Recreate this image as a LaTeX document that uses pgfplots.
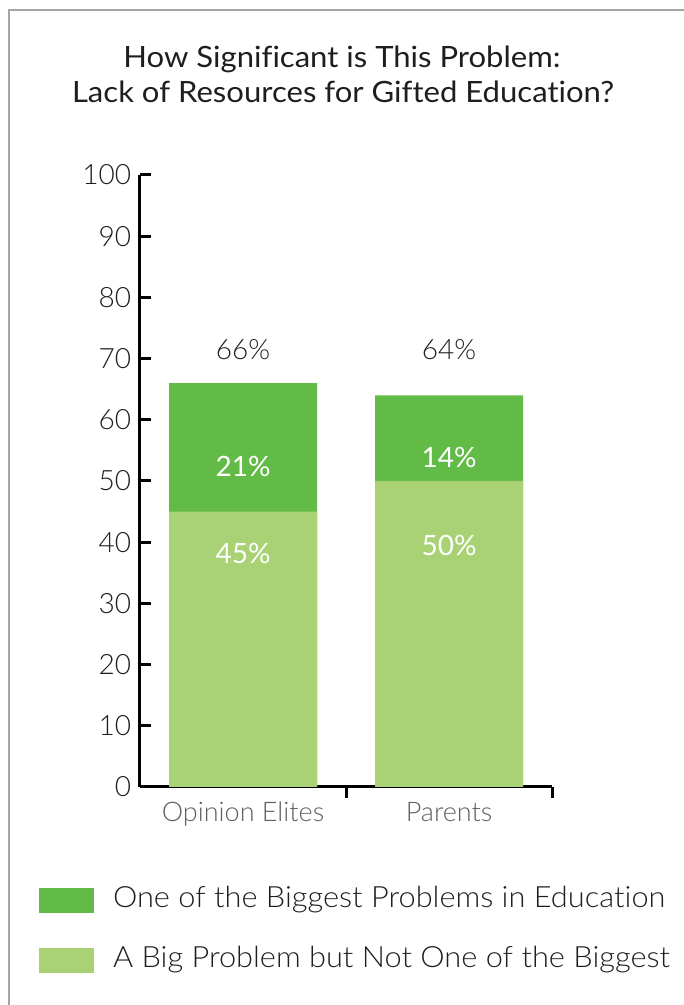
\documentclass[border=0pt]{standalone}
\usepackage{pgfplots}
\pgfplotsset{compat=1.18}
\usepackage{fontspec}
\setmainfont[Ligatures=NoCommon]{Lato}
\newfontfamily\lightfont[Ligatures=NoCommon]{Lato Light}
\newfontfamily\titlefont[FakeStretch=1.06,Ligatures=NoCommon]{Lato}
\newfontfamily\legfont[FakeStretch=1.05,Ligatures=NoCommon]{Lato Light}
\newfontfamily\valfont[Ligatures=NoCommon]{Lato}
\definecolor{darkg}{RGB}{98,187,70}
\definecolor{lightg}{RGB}{168,210,116}
\definecolor{txt}{RGB}{30,30,30}
\definecolor{cat}{RGB}{95,95,95}
\definecolor{framec}{RGB}{165,165,165}
\begin{document}
\begin{tikzpicture}
\path[use as bounding box] (0,0) rectangle (342pt,502.5pt);
\draw[framec, line width=1pt] (4.5pt,-2pt) -- (4.5pt,497.5pt) -- (344pt,497.5pt);
\node[anchor=base, inner sep=0pt, text=txt, font=\titlefont\fontsize{14.65pt}{17pt}\selectfont] at (171pt,468.5pt) {How Significant is This Problem:};
\node[anchor=base, inner sep=0pt, text=txt, font=\titlefont\fontsize{14.65pt}{17pt}\selectfont] at (171.5pt,451pt) {Lack of Resources for Gifted Education?};
\begin{axis}[
  at={(70pt,109pt)}, anchor=south west,
  scale only axis, width=206pt, height=306pt,
  xmin=-0.5, xmax=1.5, ymin=0, ymax=100,
  axis x line*=bottom, axis y line*=left,
  axis line style={line width=1.5pt, black},
  tick style={line width=1.5pt, black},
  tick align=inside,
  major tick length=5.5pt,
  ytick={0,10,...,100},
  xtick={0.5,1.5}, xticklabels={},
  extra x ticks={0,1},
  extra x tick labels={Opinion Elites,Parents},
  extra x tick style={major tick length=0pt, tick style={draw=none},
    xticklabel style={anchor=base, inner sep=0pt, yshift=-17.5pt, text=cat,
      font=\lightfont\fontsize{13.5pt}{16pt}\selectfont}},
  yticklabel style={inner sep=0pt, xshift=-4.25pt, text=txt,
      font=\lightfont\fontsize{14pt}{16pt}\selectfont},
  /pgf/number format/assume math mode=true,
  ybar, bar width=74pt, bar shift=0pt,
  legend image code/.code={\fill[#1] (0pt,-6.25pt) rectangle (27.5pt,6.25pt);},
  legend cell align=left,
  legend style={draw=none, fill=none, inner sep=0pt, outer sep=0pt,
    at={(-0.2451,-0.1650)}, anchor=north west,
    row sep=17pt, column sep=9.5pt,
    nodes={inner sep=0pt, text height=10pt, text depth=3pt, text=txt,
      font=\legfont\fontsize{14.65pt}{17pt}\selectfont}},
]
% totals: One of the Biggest (21, 14) stacked on A Big Problem (45, 50)
\addplot[fill=darkg, draw=none] coordinates {(0,66) (1,64)};
\addplot[fill=lightg, draw=none] coordinates {(0,45) (1,50)};
\legend{One of the Biggest Problems in Education, A Big Problem but Not One of the Biggest}
\node[text=txt, font=\lightfont\fontsize{14pt}{16pt}\selectfont] at (axis cs:0,71.4) {66\%};
\node[text=white, font=\valfont\fontsize{14pt}{16pt}\selectfont] at (axis cs:0,52.45) {21\%};
\node[text=white, font=\valfont\fontsize{14pt}{16pt}\selectfont] at (axis cs:0,38.2) {45\%};
\node[text=txt, font=\lightfont\fontsize{14pt}{16pt}\selectfont] at (axis cs:1,71.4) {64\%};
\node[text=white, font=\valfont\fontsize{14pt}{16pt}\selectfont] at (axis cs:1,53.9) {14\%};
\node[text=white, font=\valfont\fontsize{14pt}{16pt}\selectfont] at (axis cs:1,39.5) {50\%};
\end{axis}
\end{tikzpicture}
\end{document}
